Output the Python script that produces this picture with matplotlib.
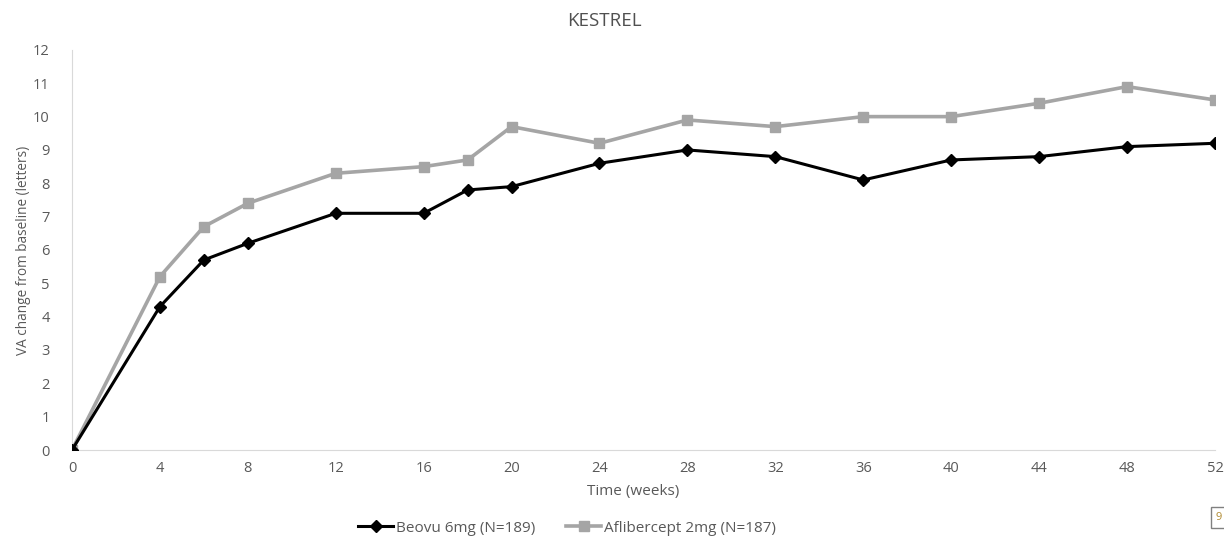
import matplotlib.pyplot as plt

# weeks and VA change (letters)
weeks = [0, 4, 6, 8, 12, 16, 18, 20, 24, 28, 32, 36, 40, 44, 48, 52]
beovu = [0, 4.3, 5.7, 6.2, 7.1, 7.1, 7.8, 7.9, 8.6, 9.0, 8.8, 8.1, 8.7, 8.8, 9.1, 9.2]
aflib = [0, 5.2, 6.7, 7.4, 8.3, 8.5, 8.7, 9.7, 9.2, 9.9, 9.7, 10.0, 10.0, 10.4, 10.9, 10.5]
xticks = list(range(0, 53, 4))
yticks = list(range(0, 13))

plt.rcParams['font.family'] = ['Open Sans', 'DejaVu Sans']
grey = '#595959'

fig = plt.figure(figsize=(12.24, 5.37), dpi=100)
ax = fig.add_axes([0.0588, 0.162, 0.9338, 0.745])

ax.plot(weeks, aflib, color='#a5a5a5', lw=2.6, marker='s', ms=6.8,
        label='Aflibercept 2mg (N=187)', zorder=2)
ax.plot(weeks, beovu, color='black', lw=2.2, marker='D', ms=5.8,
        label='Beovu 6mg (N=189)', zorder=3)

ax.set_xlim(0, 52)
ax.set_ylim(0, 12)
ax.set_xticks(xticks)
ax.set_yticks(yticks)
ax.tick_params(length=0, labelsize=10.5, colors=grey, pad=8)
ax.tick_params(axis='y', pad=16)
for s in ['top', 'right']:
    ax.spines[s].set_visible(False)
for s in ['left', 'bottom']:
    ax.spines[s].set_color('#d9d9d9')

ax.set_xlabel('Time (weeks)', fontsize=11, color=grey)
ax.xaxis.set_label_coords((633 - 72) / (1215 - 72), -0.085)
ax.set_ylabel('VA change from baseline (letters)', fontsize=9.8, color=grey)
ax.yaxis.set_label_coords(-0.036, 0.5)
fig.text(604 / 1224, 1 - 21 / 537, 'KESTREL', fontsize=13.5, color='#505050',
         ha='center', va='center')

h, l = ax.get_legend_handles_labels()
fig.legend(h[::-1], l[::-1], loc='center', bbox_to_anchor=(567 / 1224, 1 - 528 / 537), ncol=2,
           frameon=False, fontsize=11, labelcolor=grey, handlelength=2.3,
           handletextpad=0.2, columnspacing=2.0)

# little clipped box in the bottom-right corner
fig.text(1216 / 1224, 1 - 517 / 537, '9', fontsize=8, color='#b08a30', va='center',
         bbox=dict(fc='white', ec='#808080', lw=1, boxstyle='square,pad=0.45'))

fig.savefig('out.png', dpi=100)
